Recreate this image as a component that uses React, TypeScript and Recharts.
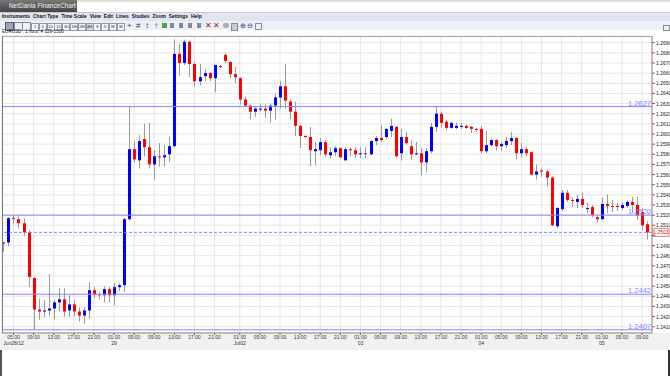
import React from 'react';
import { ComposedChart, Bar, XAxis, YAxis, CartesianGrid, ReferenceLine } from 'recharts';

// EURUSD hourly candles, Jun 28 03:00 -> Jul 05 11:00
const opens = [
  1.2492, 1.2493, 1.2517, 1.2516, 1.2512, 1.2503, 1.2458, 1.2427, 1.2425, 1.2426,
  1.2428, 1.2434, 1.2437, 1.2426, 1.2432, 1.2425, 1.2421, 1.2426, 1.2446, 1.2442,
  1.2441, 1.2447, 1.2441, 1.2449, 1.2451, 1.2516, 1.2585, 1.2574, 1.2595, 1.2587,
  1.2570, 1.2578, 1.2577, 1.2580, 1.2588, 1.2679, 1.2670, 1.2691, 1.2669, 1.2652,
  1.2657, 1.2660, 1.2655, 1.2667, 1.2678, 1.2671, 1.2659, 1.2655, 1.2634, 1.2628,
  1.2622, 1.2624, 1.2625, 1.2623, 1.2628, 1.2636, 1.2647, 1.2632, 1.2622, 1.2608,
  1.2598, 1.2597, 1.2583, 1.2584, 1.2592, 1.2579, 1.2582, 1.2586, 1.2574, 1.2585,
  1.2584, 1.2580, 1.2581, 1.2580, 1.2593, 1.2596, 1.2597, 1.2603, 1.2607, 1.2581,
  1.2597, 1.2588, 1.2580, 1.2581, 1.2572, 1.2583, 1.2607, 1.2620, 1.2612, 1.2606,
  1.2606, 1.2607, 1.2608, 1.2607, 1.2605, 1.2605, 1.2583, 1.2589, 1.2594, 1.2588,
  1.2589, 1.2593, 1.2596, 1.2581, 1.2585, 1.2582, 1.2560, 1.2564, 1.2563, 1.2557,
  1.2509, 1.2526, 1.2542, 1.2535, 1.2533, 1.2536, 1.2526, 1.2528, 1.2518, 1.2516,
  1.2531, 1.2529, 1.2529, 1.2527, 1.2529, 1.2533, 1.2530, 1.2523, 1.2511,
];
const highs = [
  1.2494, 1.2518, 1.2520, 1.2520, 1.2517, 1.2505, 1.2459, 1.2438, 1.2436, 1.2462,
  1.2436, 1.2448, 1.2448, 1.2441, 1.2436, 1.2429, 1.2429, 1.2454, 1.2449, 1.2444,
  1.2450, 1.2449, 1.2453, 1.2453, 1.2517, 1.2627, 1.2593, 1.2599, 1.2610, 1.2611,
  1.2584, 1.2591, 1.2589, 1.2597, 1.2693, 1.2689, 1.2693, 1.2692, 1.2671, 1.2669,
  1.2664, 1.2661, 1.2668, 1.2668, 1.2680, 1.2672, 1.2666, 1.2656, 1.2637, 1.2629,
  1.2627, 1.2629, 1.2629, 1.2630, 1.2640, 1.2652, 1.2669, 1.2634, 1.2632, 1.2609,
  1.2599, 1.2607, 1.2592, 1.2596, 1.2594, 1.2587, 1.2588, 1.2587, 1.2587, 1.2587,
  1.2587, 1.2587, 1.2587, 1.2594, 1.2598, 1.2609, 1.2606, 1.2615, 1.2608, 1.2605,
  1.2602, 1.2594, 1.2592, 1.2586, 1.2586, 1.2611, 1.2627, 1.2622, 1.2614, 1.2612,
  1.2611, 1.2611, 1.2609, 1.2608, 1.2606, 1.2608, 1.2603, 1.2595, 1.2595, 1.2592,
  1.2597, 1.2602, 1.2597, 1.2591, 1.2587, 1.2583, 1.2570, 1.2566, 1.2565, 1.2558,
  1.2528, 1.2545, 1.2545, 1.2538, 1.2540, 1.2542, 1.2532, 1.2530, 1.2520, 1.2537,
  1.2540, 1.2535, 1.2532, 1.2533, 1.2535, 1.2538, 1.2538, 1.2527, 1.2514,
];
const lows = [
  1.2484, 1.2489, 1.2511, 1.2507, 1.2499, 1.2449, 1.2407, 1.2417, 1.2419, 1.2421,
  1.2417, 1.2425, 1.2420, 1.2420, 1.2420, 1.2415, 1.2413, 1.2418, 1.2438, 1.2437,
  1.2434, 1.2434, 1.2431, 1.2445, 1.2444, 1.2515, 1.2572, 1.2566, 1.2578, 1.2566,
  1.2555, 1.2568, 1.2568, 1.2572, 1.2587, 1.2657, 1.2668, 1.2656, 1.2647, 1.2648,
  1.2652, 1.2652, 1.2641, 1.2665, 1.2670, 1.2655, 1.2650, 1.2629, 1.2627, 1.2614,
  1.2617, 1.2622, 1.2616, 1.2611, 1.2614, 1.2625, 1.2625, 1.2615, 1.2598, 1.2586,
  1.2596, 1.2568, 1.2569, 1.2579, 1.2578, 1.2576, 1.2578, 1.2576, 1.2574, 1.2578,
  1.2576, 1.2576, 1.2576, 1.2579, 1.2589, 1.2592, 1.2595, 1.2597, 1.2577, 1.2574,
  1.2589, 1.2575, 1.2579, 1.2559, 1.2562, 1.2581, 1.2602, 1.2606, 1.2604, 1.2605,
  1.2605, 1.2605, 1.2605, 1.2601, 1.2602, 1.2581, 1.2581, 1.2588, 1.2584, 1.2583,
  1.2586, 1.2589, 1.2575, 1.2577, 1.2578, 1.2560, 1.2555, 1.2558, 1.2548, 1.2509,
  1.2507, 1.2524, 1.2533, 1.2528, 1.2527, 1.2527, 1.2522, 1.2518, 1.2513, 1.2515,
  1.2522, 1.2523, 1.2524, 1.2525, 1.2527, 1.2522, 1.2515, 1.2505, 1.2496,
];
const closes = [
  1.2493, 1.2517, 1.2516, 1.2512, 1.2503, 1.2459, 1.2427, 1.2425, 1.2426, 1.2428,
  1.2434, 1.2437, 1.2425, 1.2432, 1.2425, 1.2421, 1.2426, 1.2446, 1.2442, 1.2441,
  1.2447, 1.2441, 1.2449, 1.2451, 1.2516, 1.2585, 1.2575, 1.2593, 1.2587, 1.2570,
  1.2578, 1.2577, 1.2579, 1.2588, 1.2679, 1.2670, 1.2691, 1.2669, 1.2652, 1.2656,
  1.2660, 1.2655, 1.2668, 1.2666, 1.2672, 1.2659, 1.2656, 1.2634, 1.2628, 1.2622,
  1.2625, 1.2625, 1.2623, 1.2628, 1.2636, 1.2647, 1.2633, 1.2622, 1.2608, 1.2598,
  1.2597, 1.2584, 1.2585, 1.2592, 1.2580, 1.2582, 1.2586, 1.2577, 1.2585, 1.2584,
  1.2580, 1.2581, 1.2580, 1.2593, 1.2596, 1.2594, 1.2605, 1.2608, 1.2578, 1.2597,
  1.2591, 1.2580, 1.2581, 1.2572, 1.2583, 1.2607, 1.2620, 1.2611, 1.2606, 1.2611,
  1.2608, 1.2608, 1.2606, 1.2605, 1.2604, 1.2583, 1.2589, 1.2594, 1.2588, 1.2590,
  1.2593, 1.2596, 1.2581, 1.2585, 1.2581, 1.2560, 1.2563, 1.2563, 1.2557, 1.2510,
  1.2527, 1.2542, 1.2535, 1.2534, 1.2536, 1.2530, 1.2527, 1.2520, 1.2516, 1.2531,
  1.2529, 1.2528, 1.2528, 1.2530, 1.2533, 1.2530, 1.2520, 1.2510, 1.2503,
];

// x axis: candle index of each label, the hour text and the date below it
const tickIdx = [2, 6, 10, 14, 18, 22, 26, 30, 34, 38, 42, 47, 51, 55, 59, 63, 67, 71, 75, 79, 83, 87, 91, 95, 99, 103, 107, 111, 115, 119, 123, 127];
const tickTimes = ['05:00', '09:00', '13:00', '17:00', '21:00', '01:00', '05:00', '09:00', '13:00', '17:00', '21:00', '01:00', '05:00', '09:00', '13:00', '17:00', '21:00', '01:00', '05:00', '09:00', '13:00', '17:00', '21:00', '01:00', '05:00', '09:00', '13:00', '17:00', '21:00', '01:00', '05:00', '09:00'];
const tickDates: Record<number, string> = { 2: 'Jun28/12', 22: '29', 47: 'Jul02', 71: '03', 95: '04', 119: '05' };

const priceTicks = [
  1.2410, 1.2420, 1.2430, 1.2440, 1.2450, 1.2460, 1.2470, 1.2480, 1.2490, 1.2500,
  1.2510, 1.2520, 1.2530, 1.2540, 1.2550, 1.2560, 1.2570, 1.2580, 1.2590, 1.2600,
  1.2610, 1.2620, 1.2630, 1.2640, 1.2650, 1.2660, 1.2670, 1.2680, 1.2690,
];

// drawn horizontal lines and the last price
const levels = [1.2627, 1.2520, 1.2442, 1.2407];
const lastPrice = 1.2503;

const data = opens.map((o, i) => ({ idx: i, o, h: highs[i], l: lows[i], c: closes[i] }));

const LINE_BLUE = '#8484ff';
const FONT = '"Liberation Sans", Arial, sans-serif';

const Candle = (props: any) => {
  const { x, y, width, height, payload } = props;
  const { o, h, l, c } = payload;
  const top = Math.min(y, y + height);
  const span = Math.abs(height);
  const ppu = h > l ? span / (h - l) : 0;
  const cx = Math.round(x + width / 2) + 0.5;
  const bTop = top + (h - Math.max(o, c)) * ppu;
  const bH = Math.max(1, Math.abs(o - c) * ppu);
  return (
    <g>
      <line x1={cx} x2={cx} y1={top} y2={top + span} stroke="#9a9a9a" strokeWidth={1} />
      <rect x={cx - 1.5} y={bTop} width={3} height={bH} fill={c >= o ? '#0000ff' : '#ff0000'} />
    </g>
  );
};

const XTick = (props: any) => {
  const { x, y, payload } = props;
  const i = tickIdx.indexOf(payload.value);
  const date = tickDates[payload.value];
  return (
    <g>
      <line x1={x} x2={x} y1={y} y2={y + 2} stroke="#e03030" />
      <text x={x} y={y + 6} textAnchor="middle" fontSize={5} fill="#333" fontFamily={FONT}>{tickTimes[i]}</text>
      {date && <text x={x} y={y + 12} textAnchor="middle" fontSize={5} fill="#333" fontFamily={FONT}>{date}</text>}
    </g>
  );
};

const LevelLabel = (props: any) => {
  const { viewBox, value } = props;
  return (
    <text x={viewBox.x + viewBox.width - 1} y={viewBox.y - 1} textAnchor="end" fontSize={7.5} fill={LINE_BLUE} fontFamily={FONT}>
      {value}
    </text>
  );
};

const LastLabel = (props: any) => {
  const { viewBox } = props;
  const x = viewBox.x + viewBox.width + 1;
  const y = viewBox.y;
  return (
    <g>
      <rect x={x} y={y - 4} width={16} height={8} fill="#fff" stroke="#f08080" strokeWidth={1} />
      <text x={x + 8} y={y + 2} textAnchor="middle" fontSize={5} fill="#d02020" fontFamily={FONT}>{lastPrice.toFixed(4)}</text>
    </g>
  );
};

const menuItems = ['Instruments', 'Chart Type', 'Time Scale', 'View', 'Edit', 'Lines', 'Studies', 'Zoom', 'Settings', 'Help'];
const toolButtons = ['1', '5', '10', '15', '30', '1H', '2H', '4H', '8', 'D', 'W', 'M'];

// y-axis tick labels sit left-aligned right of the frame; the last-price box goes over them
const YTick = (props: any) => {
  const { x, y, payload } = props;
  if (Math.abs(payload.value - lastPrice) < 0.0006) return null;
  return (
    <text x={x} y={y + 2} fontSize={5} fill="#222" fontFamily={FONT}>{payload.value.toFixed(4)}</text>
  );
};

export default function App() {
  return (
    <div style={{ position: 'absolute', left: 0, top: 0, width: 670, height: 376, overflow: 'hidden', background: '#fff', fontFamily: FONT }}>
      {/* title bar */}
      <div style={{ position: 'absolute', left: 0, top: 0, width: 670, height: 12, background: 'linear-gradient(#cfcfcf, #ffffff 25%, #ffffff)', borderBottom: '1px solid #c8c8c8' }} />
      <div style={{ position: 'absolute', left: 0, top: 0, width: 77, height: 12, background: 'linear-gradient(#777, #444)', color: '#eee', fontSize: 6.4, lineHeight: '12px', paddingLeft: 9, boxSizing: 'border-box', whiteSpace: 'nowrap', overflow: 'hidden' }}>
        NetDania FinanceChart
      </div>
      {/* menu */}
      <div style={{ position: 'absolute', left: 0, top: 13, width: 670, height: 8, background: '#dfe5f1', fontSize: 4.9, fontWeight: 'bold', lineHeight: '8px', color: '#111', whiteSpace: 'nowrap' }}>
        {menuItems.map((m) => (
          <span key={m} style={{ marginLeft: 2, marginRight: 1 }}>{m}</span>
        ))}
      </div>
      {/* toolbar */}
      <div style={{ position: 'absolute', left: 0, top: 21, width: 670, height: 9, background: '#edf0f6', whiteSpace: 'nowrap' }}>
        <span style={{ position: 'absolute', left: 5, top: 1, width: 7, height: 7, background: '#9ab', border: '1px solid #556' }} />
        <span style={{ position: 'absolute', left: 14, top: 1, width: 7, height: 7, border: '1px solid #889' }} />
        <span style={{ position: 'absolute', left: 22, top: 1, width: 7, height: 7, border: '1px solid #889' }} />
        {toolButtons.map((t, i) => (
          <span key={i} style={{ position: 'absolute', left: 31 + i * 7.8, top: 2, width: 6, height: 6, border: '1px solid #99a', fontSize: 4, lineHeight: '6px', textAlign: 'center', color: '#223', background: i === 7 ? '#cfd6e6' : '#f6f7fb' }}>{t}</span>
        ))}
        {['+', '#', '\u2195', '\u2191'].map((t, i) => (
          <span key={'a' + i} style={{ position: 'absolute', left: 127 + i * 9, top: 0, fontSize: 8, lineHeight: '9px', color: '#335' }}>{t}</span>
        ))}
        <span style={{ position: 'absolute', left: 162, top: 2, width: 5, height: 5, background: '#4a4' }} />
        {[0, 1, 2, 3].map((i) => (
          <span key={'b' + i} style={{ position: 'absolute', left: 170 + i * 9, top: 1, fontSize: 7, lineHeight: '8px', color: '#236', fontWeight: 'bold' }}>{'\u0196\u0196'}</span>
        ))}
        <span style={{ position: 'absolute', left: 205, top: 0, fontSize: 8, lineHeight: '9px', color: '#a23' }}>{'\u2715'}</span>
        <span style={{ position: 'absolute', left: 213, top: 0, fontSize: 8, lineHeight: '9px', color: '#a23' }}>{'\u2715'}</span>
        <span style={{ position: 'absolute', left: 223, top: 2, width: 6, height: 5, background: '#aab', borderRadius: 2 }} />
        <span style={{ position: 'absolute', left: 231, top: 2, width: 5, height: 6, background: '#ccd', border: '1px solid #889' }} />
        <span style={{ position: 'absolute', left: 240, top: 1, fontSize: 7, lineHeight: '8px', color: '#337' }}>{'\u2295'}</span>
        <span style={{ position: 'absolute', left: 247, top: 1, fontSize: 7, lineHeight: '8px', color: '#337' }}>{'\u2296'}</span>
        <span style={{ position: 'absolute', left: 255, top: 2, width: 5, height: 5, border: '1px solid #889' }} />
        <span style={{ position: 'absolute', left: 663, top: 4, width: 5, height: 4, border: '1px solid #889', background: '#eee' }} />
      </div>
      <div style={{ position: 'absolute', left: 2, top: 29, fontSize: 4.6, lineHeight: '6px', color: '#222', whiteSpace: 'nowrap' }}>
        EURUSD , 1 hour, # 129-1500
      </div>
      {/* axis label band */}
      <div style={{ position: 'absolute', left: 0, top: 333, width: 670, height: 17, background: '#f1f1f1' }} />
      <div style={{ position: 'absolute', left: 0, top: 350, width: 2, height: 26, background: '#555' }} />
      <div style={{ position: 'absolute', left: 668, top: 350, width: 2, height: 26, background: '#333' }} />
      {/* chart */}
      <div style={{ position: 'absolute', left: 0, top: 35, width: 670, height: 315 }}>
        <ComposedChart width={670} height={315} data={data} margin={{ top: 1, right: 0, bottom: 0, left: 2 }} style={{ fontFamily: FONT }}>
          <CartesianGrid stroke="#e6e6e6" strokeWidth={1} fill="#fff" />
          <XAxis
            dataKey="idx"
            type="number"
            domain={[-0.28, 128.97]}
            allowDataOverflow
            ticks={tickIdx}
            interval={0}
            height={17}
            tick={<XTick />}
            tickLine={false}
            tickSize={0}
            tickMargin={0}
            axisLine={{ stroke: '#8a8a8a' }}
          />
          <YAxis
            orientation="right"
            domain={[1.24038, 1.26966]}
            allowDataOverflow
            ticks={priceTicks}
            interval={0}
            width={18}
            tickSize={3}
            tickMargin={1}
            tickLine={{ stroke: '#e03030' }}
            axisLine={{ stroke: '#8a8a8a' }}
            tick={<YTick />}
          />
          {levels.map((lv) => (
            <ReferenceLine key={lv} y={lv} stroke={LINE_BLUE} strokeWidth={1} ifOverflow="extendDomain" label={<LevelLabel value={lv.toFixed(4)} />} />
          ))}
          <ReferenceLine y={lastPrice} stroke={LINE_BLUE} strokeDasharray="3 2" label={<LastLabel />} />
          <Bar dataKey={(d: any) => [d.l, d.h]} barSize={3} shape={<Candle />} isAnimationActive={false} />
        </ComposedChart>
      </div>
      {/* plot frame */}
      <div style={{ position: 'absolute', left: 2, top: 36, width: 650, height: 297, borderLeft: '1px solid #777', borderTop: '1px solid #aaa', boxSizing: 'border-box', pointerEvents: 'none' }} />
    </div>
  );
}
